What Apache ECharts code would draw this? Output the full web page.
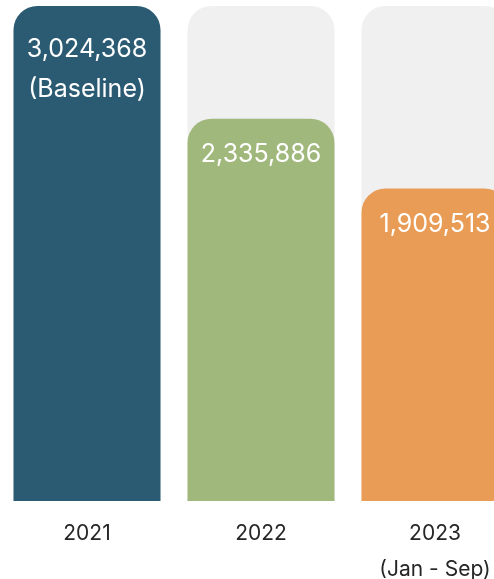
<!DOCTYPE html>
<html>
<head>
<meta charset="utf-8">
<script src="https://cdn.jsdelivr.net/npm/echarts@6/dist/echarts.min.js"></script>
<style>
html,body{margin:0;padding:0;background:#fff;}
#chart{width:494px;height:579px;}
</style>
</head>
<body>
<div id="chart"></div>
<script>
const categories = ['2021', '2022', '2023\n(Jan - Sep)'];
const values = [3024368, 2335886, 1909513];
const notes = ['(Baseline)', '', ''];
const barColors = ['#2b5b73', '#a1b87c', '#e89c56'];

const chart = echarts.init(document.getElementById('chart'), null, {renderer: 'canvas'});
const fmt = v => v.toLocaleString('en-US');

const data = values.map((v, i) => ({
  value: v,
  itemStyle: {color: barColors[i]},
  label: {lineHeight: notes[i] ? 40 : 28, distance: notes[i] ? 23 : 22}
}));

chart.setOption({
  animation: false,
  grid: {left: 0, right: -28, top: 6, bottom: 78, containLabel: false, outerBoundsMode: 'none'},
  xAxis: {
    type: 'category',
    data: categories,
    axisLine: {show: false},
    axisTick: {show: false},
    axisLabel: {
      color: '#262626',
      fontFamily: 'Inter',
      fontSize: 21,
      lineHeight: 36,
      margin: 15
    }
  },
  yAxis: {
    type: 'value',
    min: 0,
    max: values[0],
    show: false,
    splitLine: {show: false}
  },
  series: [{
    type: 'bar',
    data: data,
    barWidth: 147,
    showBackground: true,
    backgroundStyle: {color: '#f0f0f0', borderRadius: [24, 24, 0, 0]},
    itemStyle: {borderRadius: [24, 24, 0, 0]},
    label: {
      show: true,
      position: 'insideTop',
      color: '#ffffff',
      fontFamily: 'Inter',
      fontSize: 25,
      formatter: p => fmt(p.value) + (notes[p.dataIndex] ? '\n' + notes[p.dataIndex] : '')
    }
  }]
});
</script>
</body>
</html>
